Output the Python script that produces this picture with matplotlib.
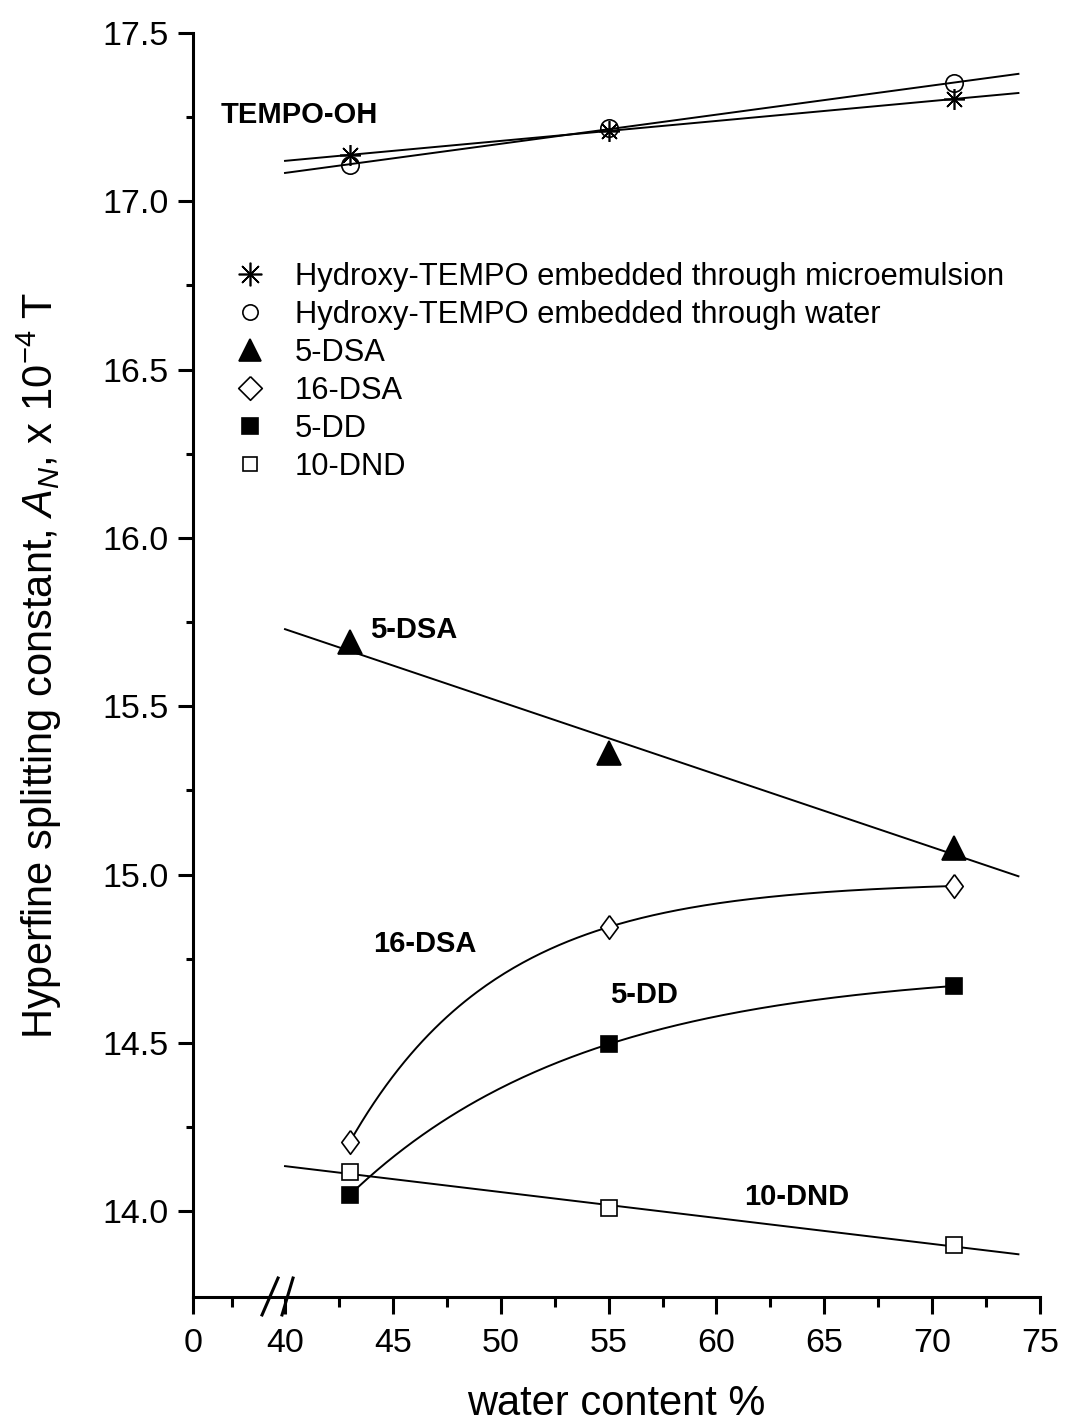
import numpy as np
import matplotlib
matplotlib.use("Agg")
import matplotlib.pyplot as plt
from matplotlib.lines import Line2D

plt.rcParams['font.family'] = ['Liberation Sans', 'DejaVu Sans']
plt.rcParams['mathtext.fontset'] = 'custom'
plt.rcParams['mathtext.rm'] = 'Liberation Sans'
plt.rcParams['mathtext.it'] = 'Liberation Sans:italic'
plt.rcParams['mathtext.bf'] = 'Liberation Sans:bold'

# ---------------- data ----------------
water = [43, 55, 71]
tempo_micro = [17.138, 17.209, 17.304]
tempo_water = [17.108, 17.218, 17.351]
dsa5 = [15.69, 15.36, 15.079]
dsa16 = [14.205, 14.844, 14.966]
dd5 = [14.048, 14.496, 14.669]
dnd10 = [14.116, 14.009, 13.899]

legend_labels = ["Hydroxy-TEMPO embedded through microemulsion",
                 "Hydroxy-TEMPO embedded through water",
                 "5-DSA", "16-DSA", "5-DD", "10-DND"]

x_major = [0, 40, 45, 50, 55, 60, 65, 70, 75]
x_minor = [20, 42.5, 47.5, 52.5, 57.5, 62.5, 67.5, 72.5]
y_major = [14.0, 14.5, 15.0, 15.5, 16.0, 16.5, 17.0, 17.5]
y_minor = [14.25, 14.75, 15.25, 15.75, 16.25, 16.75, 17.25]

# broken x-axis scale: 0..40 compressed
P0 = 35.735
SL = 0.0904


def fwd(x):
    x = np.asarray(x, dtype=float)
    return np.where(x >= 40, x, P0 + SL * x)


def inv(p):
    p = np.asarray(p, dtype=float)
    return np.where(p >= 40, p, np.minimum((p - P0) / SL, 40))


def exp_through(x, y):
    x = np.asarray(x, float)
    y = np.asarray(y, float)
    r = (y[2] - y[1]) / (y[1] - y[0])
    d1 = x[1] - x[0]
    d2 = x[2] - x[1]

    def f(k):
        return k ** d1 * (1 - k ** d2) / (1 - k ** d1) - r
    lo, hi = 1e-9, 1 - 1e-9
    for _ in range(200):
        mid = 0.5 * (lo + hi)
        if f(mid) > 0:
            hi = mid
        else:
            lo = mid
    k = 0.5 * (lo + hi)
    b = (y[1] - y[0]) / (k ** d1 - 1)
    a = y[0] - b

    def g(xx):
        return a + b * k ** (np.asarray(xx) - x[0])
    return g


fig = plt.figure(figsize=(10.66, 14.23), dpi=100)
ax = fig.add_axes([193 / 1066, 1 - 1297 / 1423, 847 / 1066, 1264 / 1423])
ax.set_xscale('function', functions=(fwd, inv))

lw_fit = 1.4
mew = 1.2

# fitted lines
xl = np.linspace(40, 74, 50)
for ys in (tempo_micro, tempo_water, dsa5, dnd10):
    c = np.polyfit(water, ys, 1)
    ax.plot(xl, np.polyval(c, xl), color='black', lw=lw_fit, zorder=2)

xc = np.linspace(43, 71, 200)
for ys in (dsa16, dd5):
    g = exp_through(water, ys)
    ax.plot(xc, g(xc), color='black', lw=lw_fit, zorder=2)

# markers
diamond = [(0, 1), (0.74, 0), (0, -1), (-0.74, 0), (0, 1)]
ax.plot(water, tempo_micro, linestyle='none', marker=(8, 2, 0), ms=15,
        mec='black', mew=mew, zorder=3)
ax.plot(water, tempo_water, linestyle='none', marker='o', ms=12.5,
        mfc='none', mec='black', mew=mew, zorder=3)
ax.plot(water, dsa5, linestyle='none', marker='^', ms=17.5,
        mfc='black', mec='black', mew=mew, zorder=3)
ax.plot(water, dsa16, linestyle='none', marker=diamond, ms=17,
        mfc='white', mec='black', mew=mew, zorder=3)
ax.plot(water, dd5, linestyle='none', marker='s', ms=12,
        mfc='black', mec='black', mew=mew, zorder=3)
ax.plot(water, dnd10, linestyle='none', marker='s', ms=12,
        mfc='white', mec='black', mew=mew, zorder=3)

# legend proxies (legend symbols drawn a bit differently in the original)
reg_diamond = [(0, 1), (1, 0), (0, -1), (-1, 0), (0, 1)]
lkw = dict(linestyle='none', mec='black', mew=mew)
handles = [
    Line2D([], [], marker=(8, 2, 0), ms=17, **lkw),
    Line2D([], [], marker='o', ms=11, mfc='none', **lkw),
    Line2D([], [], marker='^', ms=16, mfc='black', **lkw),
    Line2D([], [], marker=reg_diamond, ms=17, mfc='none', **lkw),
    Line2D([], [], marker='s', ms=11.5, mfc='black', **lkw),
    Line2D([], [], marker='s', ms=9.5, mfc='none', **lkw),
]

ax.set_xlim(0, 75)
ax.set_ylim(13.745, 17.5)
ax.set_xticks(x_major)
ax.set_xticks(x_minor, minor=True)
ax.set_xticklabels([str(v) for v in x_major])
ax.set_yticks(y_major)
ax.set_yticks(y_minor, minor=True)
ax.set_yticklabels([f"{v:.1f}" for v in y_major])

for s in ('top', 'right'):
    ax.spines[s].set_visible(False)
for s in ('left', 'bottom'):
    ax.spines[s].set_linewidth(2.2)

ax.tick_params(axis='both', which='both', direction='out', width=2.2, labelsize=24.5)
ax.tick_params(axis='x', which='major', length=12.5, pad=10)
ax.tick_params(axis='x', which='minor', length=7)
ax.tick_params(axis='y', which='major', length=10.5, pad=7)
ax.tick_params(axis='y', which='minor', length=5)

ax.set_xlabel("water content %", fontsize=30, va='baseline')
ax.xaxis.set_label_coords(0.5, -0.0935)
ax.set_ylabel(r"Hyperfine splitting constant, $\mathit{A}_{\mathit{N}}$, x 10$^{\mathregular{-4}}$ T",
              fontsize=30, va='baseline')
ax.yaxis.set_label_coords(-0.1653, 0.5)

# axis break marks
ax.plot([0.0815, 0.1004], [-0.0142, 0.0150], transform=ax.transAxes,
        color='black', lw=2.2, clip_on=False)
ax.plot([0.1051, 0.1181], [-0.0142, 0.0150], transform=ax.transAxes,
        color='black', lw=2.2, clip_on=False)

# in-plot labels
lab_kw = dict(fontsize=21, fontweight='bold', ha='left', va='center')
ax.text(14, 17.256, "TEMPO-OH", **lab_kw)
ax.text(43.94, 15.726, "5-DSA", **lab_kw)
ax.text(44.08, 14.794, "16-DSA", **lab_kw)
ax.text(55.07, 14.642, "5-DD", **lab_kw)
ax.text(61.28, 14.042, "10-DND", **lab_kw)

ax.legend(handles, legend_labels, loc='upper left',
          bbox_to_anchor=(0.0492, 0.819), frameon=False, fontsize=22.2,
          handlelength=1.0, handletextpad=0.95, labelspacing=0.26,
          borderpad=0, borderaxespad=0, numpoints=1)

fig.savefig("out.png", dpi=100)
